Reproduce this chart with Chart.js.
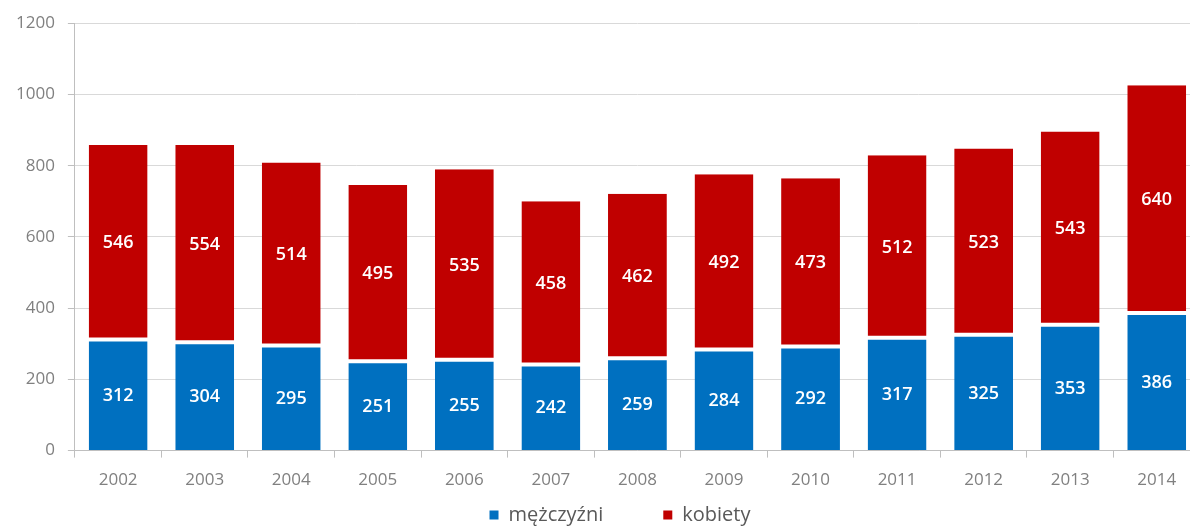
<!DOCTYPE html>
<html>
<head>
<meta charset="utf-8">
<script src="https://cdn.jsdelivr.net/npm/chart.js@4/dist/chart.umd.min.js"></script>
<style>
  html, body { margin: 0; padding: 0; background: #fff; overflow: hidden; }
  #wrap { width: 1200px; height: 526px; }
</style>
</head>
<body>
<div id="wrap"><canvas id="barChart"></canvas></div>
<script>
const years = ["2002", "2003", "2004", "2005", "2006", "2007", "2008", "2009", "2010", "2011", "2012", "2013", "2014"];
const men = [312, 304, 295, 251, 255, 242, 259, 284, 292, 317, 325, 353, 386];
const women = [546, 554, 514, 495, 535, 458, 462, 492, 473, 512, 523, 543, 640];
const yTicks = [0, 200, 400, 600, 800, 1000, 1200];

const FONT = "'Open Sans', 'Noto Sans', sans-serif";

// white value labels in the middle of every segment
const segmentLabels = {
    id: "segmentLabels",
    afterDatasetsDraw(chart) {
        const ctx = chart.ctx;
        ctx.save();
        ctx.fillStyle = "#ffffff";
        ctx.font = "600 18px " + FONT;
        ctx.textAlign = "center";
        ctx.textBaseline = "middle";
        chart.data.datasets.forEach((ds, i) => {
            chart.getDatasetMeta(i).data.forEach((bar, j) => {
                const p = bar.getProps(["x", "y", "base"], true);
                ctx.fillText(ds.data[j], p.x, (p.y + p.base) / 2 + 1);
            });
        });
        ctx.restore();
    }
};

// legend drawn by hand, wide gap between the two items
const bottomLegend = {
    id: "bottomLegend",
    afterDraw(chart) {
        const ctx = chart.ctx;
        const box = 9, gap = 10, between = 60;
        ctx.save();
        ctx.font = "20px " + FONT;
        const items = chart.data.datasets.map(ds => ({
            text: ds.label, color: ds.backgroundColor, w: ctx.measureText(ds.label).width
        }));
        let total = 0;
        items.forEach((it, i) => { total += box + gap + it.w + (i ? between : 0); });
        let x = 620 - total / 2;
        const y = 515;
        ctx.textBaseline = "middle";
        ctx.textAlign = "left";
        items.forEach(it => {
            ctx.fillStyle = it.color;
            ctx.fillRect(x, y - box / 2, box, box);
            ctx.fillStyle = "#595959";
            ctx.fillText(it.text, x + box + gap, y);
            x += box + gap + it.w + between;
        });
        ctx.restore();
    }
};

new Chart(document.getElementById("barChart"), {
    type: "bar",
    data: {
        labels: years,
        datasets: [{
            label: "mężczyźni",
            data: men,
            backgroundColor: "#0070c0",
            borderColor: "#ffffff",
            borderWidth: {top: 2, left: 0, right: 0, bottom: 0},
            borderSkipped: false
        }, {
            label: "kobiety",
            data: women,
            backgroundColor: "#c00000",
            borderColor: "#ffffff",
            borderWidth: {bottom: 2, top: 0, left: 0, right: 0},
            borderSkipped: false
        }]
    },
    options: {
        responsive: true,
        maintainAspectRatio: false,
        animation: false,
        categoryPercentage: 1,
        barPercentage: 0.68,
        layout: {padding: {left: 3, top: 8, right: 0, bottom: 24}},
        plugins: {
            tooltip: {enabled: false},
            legend: {display: false}
        },
        scales: {
            x: {
                stacked: true,
                grid: {
                    offset: true,
                    drawOnChartArea: false,
                    drawTicks: true,
                    tickLength: 7,
                    color: "#bfbfbf"
                },
                border: {color: "#bfbfbf", width: 1},
                ticks: {color: "#808080", font: {family: FONT, size: 17}, padding: 12}
            },
            y: {
                stacked: true,
                min: 0,
                max: 1200,
                afterBuildTicks(axis) {
                    axis.ticks = yTicks.map(v => ({value: v}));
                },
                grid: {
                    color: "#d9d9d9",
                    drawTicks: true,
                    tickLength: 7,
                    tickColor: "#bfbfbf"
                },
                border: {color: "#bfbfbf", width: 1},
                ticks: {
                    color: "#808080",
                    font: {family: FONT, size: 17},
                    padding: 13,
                    callback: v => String(v)
                }
            }
        }
    },
    plugins: [segmentLabels, bottomLegend]
});
</script>
</body>
</html>
